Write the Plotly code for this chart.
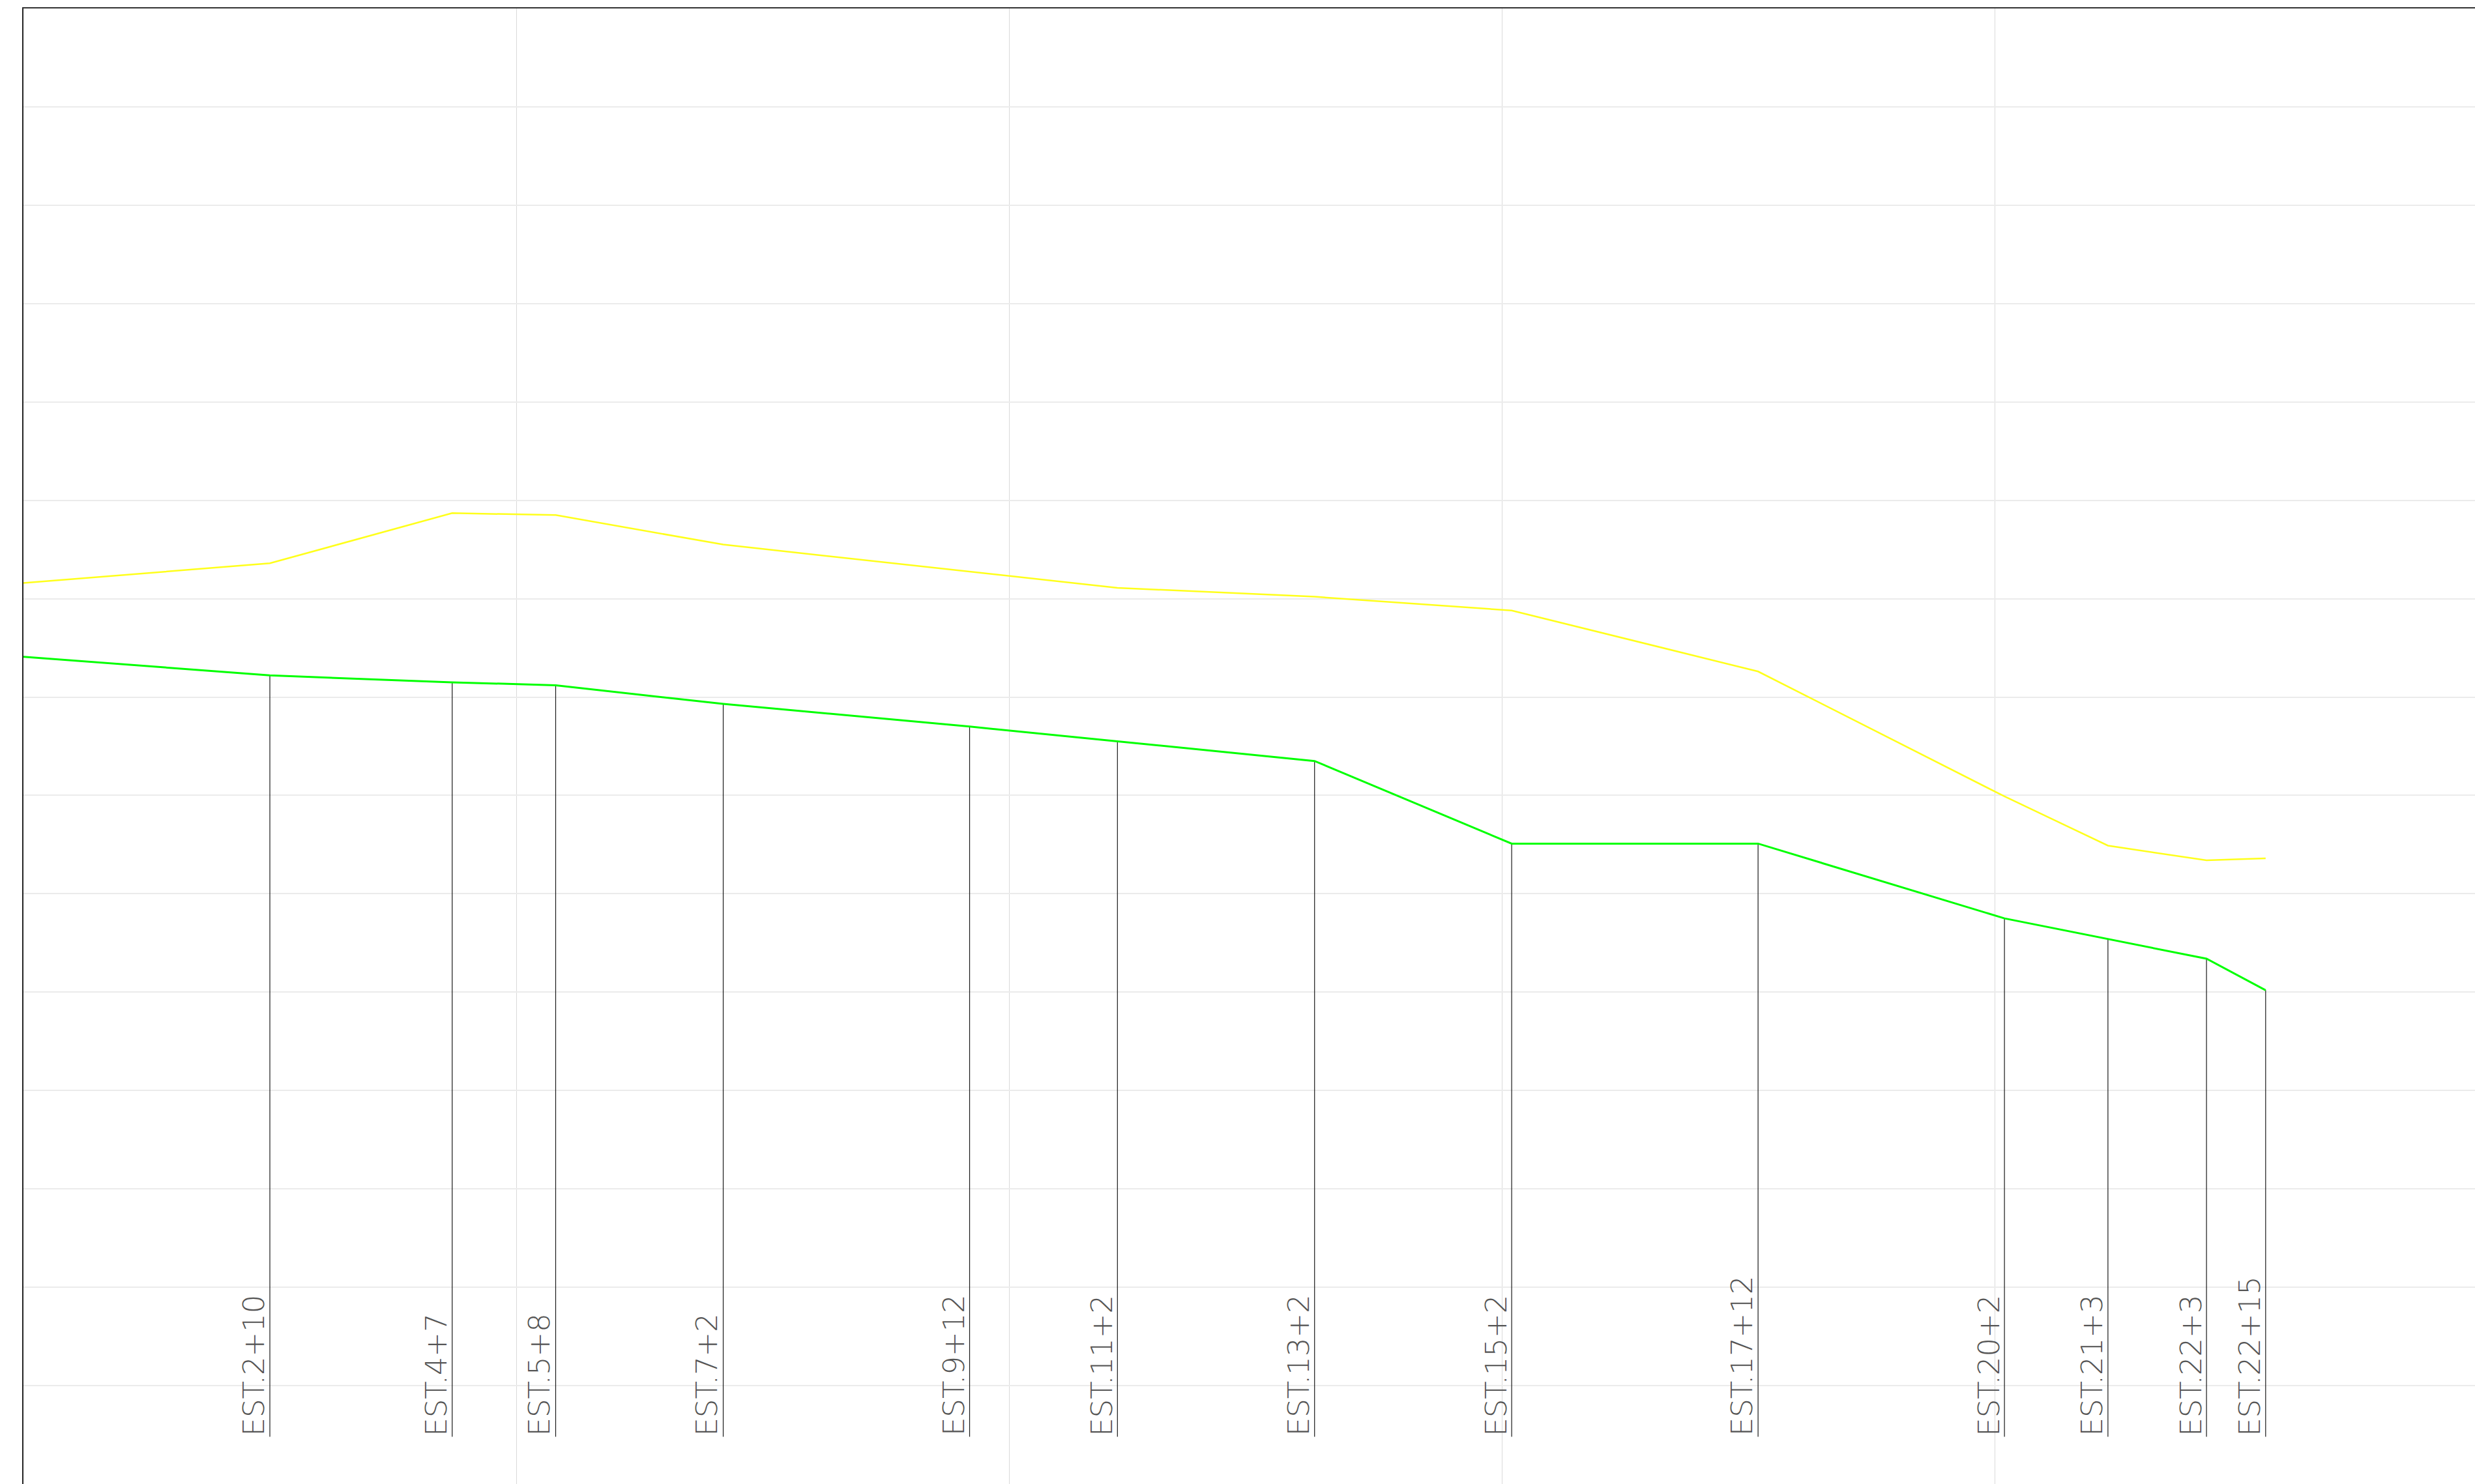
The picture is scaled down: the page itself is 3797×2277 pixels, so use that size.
import plotly.graph_objects as go

# Stations (distance in metres along the alignment) and their labels
station_m = [50, 87, 108, 142, 192, 222, 262, 302, 352, 402, 423, 443, 455]
station_labels = ["EST.2+10", "EST.4+7", "EST.5+8", "EST.7+2", "EST.9+12", "EST.11+2",
                  "EST.13+2", "EST.15+2", "EST.17+12", "EST.20+2", "EST.21+3",
                  "EST.22+3", "EST.22+15"]

# Green profile (relative elevation, m)
green_x = [0, 50, 87, 108, 142, 192, 222, 262, 302, 352, 402, 423, 443, 455]
green_y = [8.41, 8.22, 8.15, 8.12, 7.93, 7.70, 7.55, 7.35, 6.51, 6.51, 5.75, 5.54, 5.34, 5.02]

# Yellow profile (relative elevation, m)
yellow_x = [0, 50, 87, 108, 142, 222, 262, 302, 352, 402, 423, 443, 455]
yellow_y = [9.16, 9.36, 9.87, 9.85, 9.55, 9.11, 9.02, 8.88, 8.26, 6.99, 6.49, 6.34, 6.36]

W, H = 3797, 2277
ML, MT = 36, 13
X_RANGE = [0, (W - ML) / 7.56]
Y_RANGE = [0, 15]
LABEL_BASE = 0.48

fig = go.Figure()

# station ordinates: from green profile down to the label base
gmap = dict(zip(green_x, green_y))
vx, vy = [], []
for s in station_m:
    vx += [s, s, None]
    vy += [gmap[s], LABEL_BASE, None]
fig.add_trace(go.Scatter(x=vx, y=vy, mode="lines",
                         line=dict(color="#1a1a1a", width=1.2),
                         hoverinfo="skip", showlegend=False))

fig.add_trace(go.Scatter(x=yellow_x, y=yellow_y, mode="lines",
                         line=dict(color="#ffff1a", width=2.5),
                         showlegend=False))
fig.add_trace(go.Scatter(x=green_x, y=green_y, mode="lines",
                         line=dict(color="#00ff00", width=3),
                         showlegend=False))

for s, lab in zip(station_m, station_labels):
    fig.add_annotation(x=s, y=LABEL_BASE, text=lab, textangle=-90,
                       xanchor="right", yanchor="bottom", showarrow=False,
                       xshift=3, borderpad=0,
                       font=dict(family="DejaVu Sans ExtraLight, DejaVu Sans", size=45,
                                 color="#555555", weight=200))

fig.update_xaxes(range=X_RANGE, dtick=100, tick0=0, showgrid=True,
                 gridcolor="#dadada", gridwidth=1, zeroline=False,
                 showticklabels=False, ticks="", side="top",
                 showline=True, linecolor="#333333", linewidth=2)
fig.update_yaxes(range=Y_RANGE, dtick=1, tick0=0, showgrid=True,
                 gridcolor="#ebebeb", gridwidth=2, zeroline=False,
                 showticklabels=False, ticks="",
                 showline=True, linecolor="#222222", linewidth=2)

fig.update_layout(width=W, height=H,
                  margin=dict(l=ML, r=0, t=MT, b=0, pad=0),
                  paper_bgcolor="white", plot_bgcolor="white",
                  showlegend=False)

fig.write_html("out.html", config={"displayModeBar": False},
               post_script="document.body.style.margin='0px';document.body.style.overflow='hidden';")
